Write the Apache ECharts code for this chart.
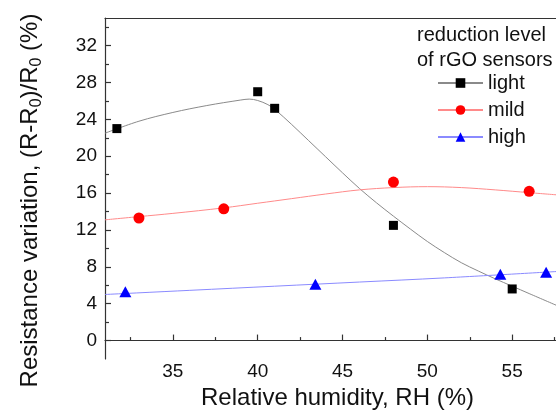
<!DOCTYPE html>
<html>
<head>
<meta charset="utf-8">
<script src="https://cdn.jsdelivr.net/npm/echarts@6/dist/echarts.min.js"></script>
<style>html,body{margin:0;padding:0;background:#fff}#c{width:556px;height:410px}</style>
</head>
<body>
<div id="c"></div>
<script>
// measured points
var lightX = [31.7, 40.0, 41.0, 48.0, 55.0];
var lightY = [23.0, 27.0, 25.2, 12.5, 5.6];
var mildX = [33.0, 38.0, 48.0, 56.0];
var mildY = [13.3, 14.3, 17.2, 16.2];
var highX = [32.2, 43.4, 54.3, 57.0];
var highY = [5.3, 6.1, 7.2, 7.4];
// fitted curves
var lightFitX = [31, 33, 35, 37, 39, 39.5, 40, 40.6, 41, 42, 43, 44, 45, 46, 47, 48, 49, 50, 51, 52, 53, 54, 55, 56, 57.7];
var lightFitY = [22.5, 23.8, 24.75, 25.5, 26.1, 26.2, 26.05, 25.6, 25.1, 23.45, 21.7, 19.95, 18.2, 16.5, 14.95, 13.5, 12.1, 10.75, 9.55, 8.45, 7.55, 6.7, 5.9, 5.1, 3.75];
var mildFitX = [31, 33, 35, 38, 40, 42, 44, 46, 48, 50, 52, 54, 56, 57.7];
var mildFitY = [13.1, 13.45, 13.8, 14.4, 14.9, 15.4, 15.9, 16.35, 16.6, 16.7, 16.6, 16.35, 16.05, 15.8];
var highFitX = [31, 36, 41, 46, 51, 57.7];
var highFitY = [5.0, 5.45, 5.9, 6.35, 6.8, 7.5];
var xTicks = [35, 40, 45, 50, 55];
var xMinor = [32.5, 37.5, 42.5, 47.5, 52.5, 57.5];
var yTicks = [0, 4, 8, 12, 16, 20, 24, 28, 32];
var yMinor = [2, 6, 10, 14, 18, 22, 26, 30, 34];
var names = ['light', 'mild', 'high'];

function pairs(xs, ys) { return xs.map(function (x, i) { return [x, ys[i]]; }); }

var FONT = 'Liberation Sans, Arial, sans-serif';
var axisCol = '#333';
var chart = echarts.init(document.getElementById('c'));
var fitCols = ['#8a8a8a', '#ff8a8a', '#8a8aff'];
var markCols = ['#000000', '#ff0000', '#0000ff'];
var syms = ['rect', 'circle', 'triangle'];
var symSizes = [9, 11, [12, 11]];
var fits = [pairs(lightFitX, lightFitY), pairs(mildFitX, mildFitY), pairs(highFitX, highFitY)];
var pts = [pairs(lightX, lightY), pairs(mildX, mildY), pairs(highX, highY)];

var series = [];
for (var i = 0; i < 3; i++) {
  series.push({
    type: 'line', name: names[i], data: fits[i], smooth: 0.35,
    showSymbol: false, symbol: syms[i], symbolSize: symSizes[i],
    color: markCols[i],
    lineStyle: { color: fitCols[i], width: 1 },
    itemStyle: { color: markCols[i] },
    z: 2, silent: true
  });
}
for (var j = 0; j < 3; j++) {
  series.push({
    type: 'scatter', name: names[j], data: pts[j], symbol: syms[j], symbolSize: symSizes[j],
    itemStyle: { color: markCols[j], opacity: 1 }, z: 3
  });
}

chart.setOption({
  animation: false,
  backgroundColor: '#fff',
  textStyle: { fontFamily: FONT },
  title: {
    text: 'reduction level\nof rGO sensors',
    left: 417, top: 23,
    padding: 0,
    textStyle: { fontFamily: FONT, fontSize: 20, fontWeight: 'normal', color: '#111', lineHeight: 25 }
  },
  legend: {
    orient: 'vertical', left: 437, top: 73, padding: 0,
    itemWidth: 45, itemHeight: 12, itemGap: 7,
    data: names,
    textStyle: { fontFamily: FONT, fontSize: 20, color: '#111' }
  },
  grid: { left: 105, right: -2, top: 18, bottom: 51, outerBoundsMode: 'none', containLabel: false },
  xAxis: [
    {
      type: 'value', min: 31, max: 57.7, position: 'bottom',
      name: 'Relative humidity, RH (%)', nameLocation: 'middle', nameGap: 14,
      nameTextStyle: { fontFamily: FONT, fontSize: 24, color: '#111', padding: [0, 0, 0, 12] },
      axisLine: { show: true, lineStyle: { color: axisCol, width: 1.2 } },
      axisTick: { show: true, inside: true, length: 6, customValues: xTicks, lineStyle: { color: axisCol, width: 1.2 } },
      axisLabel: { show: true, customValues: xTicks, margin: 3, fontFamily: FONT, fontSize: 19, color: '#111' },
      splitLine: { show: false }
    },
    {
      type: 'value', min: 31, max: 57.7, position: 'bottom',
      axisLine: { show: false },
      axisTick: { show: true, inside: true, length: 3.5, customValues: xMinor, lineStyle: { color: axisCol, width: 1.2 } },
      axisLabel: { show: false },
      splitLine: { show: false }
    },
    {
      type: 'value', min: 31, max: 57.7, position: 'top',
      axisLine: { show: true, lineStyle: { color: axisCol, width: 1.2 } },
      axisTick: { show: false }, axisLabel: { show: false }, splitLine: { show: false }
    }
  ],
  yAxis: [
    {
      type: 'value', min: -2, max: 35, position: 'left',
      name: 'Resistance variation, (R-R{s|0})/R{s|0} (%)',
      nameLocation: 'middle', nameRotate: 90, nameGap: 75,
      nameTextStyle: {
        fontFamily: FONT, fontSize: 24, color: '#111', lineHeight: 30, verticalAlign: 'middle',
        padding: [0, 24, 0, 0],
        rich: { s: { fontFamily: FONT, fontSize: 16, lineHeight: 14, verticalAlign: 'bottom', color: '#111' } }
      },
      axisLine: { show: true, lineStyle: { color: axisCol, width: 1.2 } },
      axisTick: { show: true, inside: true, length: 6, customValues: yTicks, lineStyle: { color: axisCol, width: 1.2 } },
      axisLabel: { show: true, customValues: yTicks, margin: 8, fontFamily: FONT, fontSize: 19, color: '#111' },
      splitLine: { show: false }
    },
    {
      type: 'value', min: -2, max: 35, position: 'left',
      axisLine: { show: false },
      axisTick: { show: true, inside: true, length: 4, customValues: yMinor, lineStyle: { color: axisCol, width: 1.2 } },
      axisLabel: { show: false },
      splitLine: { show: false }
    }
  ],
  series: series
});
</script>
</body>
</html>
